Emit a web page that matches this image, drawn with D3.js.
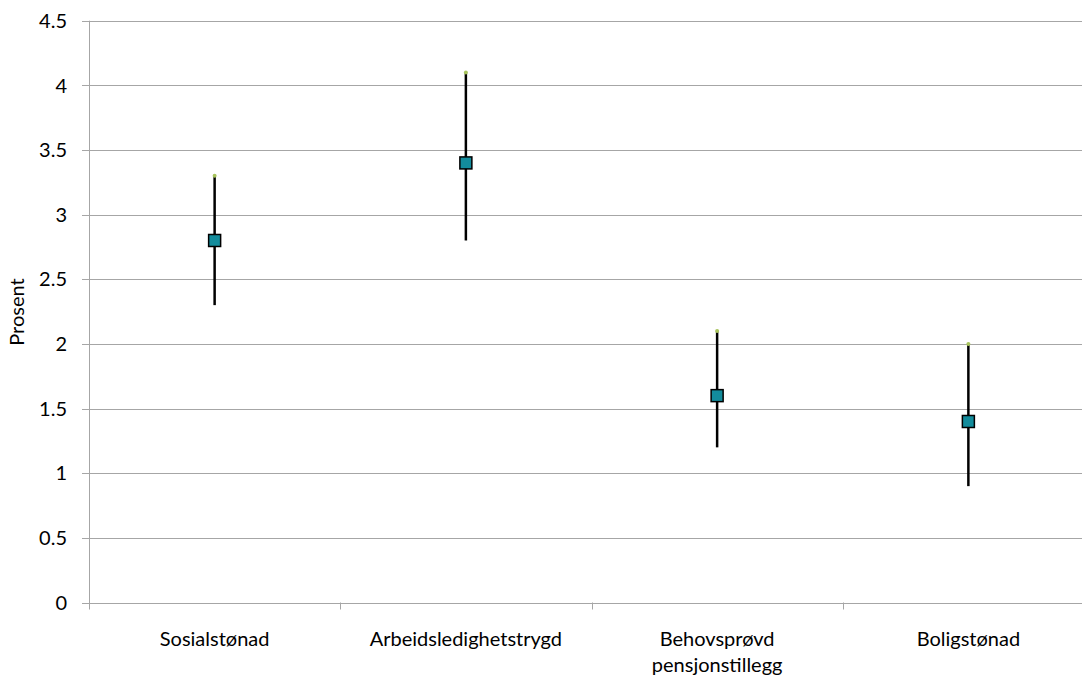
<!DOCTYPE html>
<html><head><meta charset="utf-8">
<script src="https://cdn.jsdelivr.net/npm/d3@7"></script>
<style>body{margin:0;background:#fff}svg text{font-family:Lato,"Open Sans",sans-serif;font-size:20px;fill:#000}</style>
</head><body><svg id="c" width="1082" height="675"></svg>
<script>
const categories = ["Sosialstønad","Arbeidsledighetstrygd","Behovsprøvd\npensjonstillegg","Boligstønad"];
const lowValues = [2.3, 2.8, 1.2, 0.9];
const highValues = [3.3, 4.1, 2.1, 2.0];
const midValues = [2.8, 3.4, 1.6, 1.4];
const yTicks = [0,0.5,1,1.5,2,2.5,3,3.5,4,4.5];

const svg = d3.select("#c");
const x0 = 89, x1 = 1094, yTop = 20.7, yBot = 602.5;
const x = d3.scaleBand().domain(categories).range([x0,x1]);
const y = d3.scaleLinear().domain([0,4.5]).range([yBot,yTop]);
const grid = "#a6a6a6";

svg.append("g").selectAll("line").data(yTicks.filter(d=>d>0)).join("line")
  .attr("x1",x0).attr("x2",x1).attr("y1",d=>Math.round(y(d))+0.5).attr("y2",d=>Math.round(y(d))+0.5)
  .attr("stroke",grid).attr("stroke-width",1);

// y axis
svg.append("line").attr("x1",x0+0.5).attr("x2",x0+0.5).attr("y1",yTop).attr("y2",yBot+1).attr("stroke",grid);
svg.append("g").selectAll("line").data(yTicks).join("line")
  .attr("x1",x0-7).attr("x2",x0).attr("y1",d=>Math.round(y(d))+0.5).attr("y2",d=>Math.round(y(d))+0.5).attr("stroke",grid);
svg.append("g").selectAll("text").data(yTicks).join("text")
  .attr("x",67).attr("y",d=>y(d)).attr("dy","0.36em").attr("text-anchor","end").text(d=>d);

// x axis
svg.append("line").attr("x1",x0).attr("x2",x1).attr("y1",Math.round(yBot)+0.5).attr("y2",Math.round(yBot)+0.5).attr("stroke",grid);
const bounds = categories.map(c=>x(c)).concat([x1]);
svg.append("g").selectAll("line").data(bounds).join("line")
  .attr("x1",d=>Math.round(d)+0.5).attr("x2",d=>Math.round(d)+0.5).attr("y1",yBot).attr("y2",yBot+7).attr("stroke",grid);
categories.forEach(c=>{
  const t = svg.append("text").attr("x",x(c)+x.bandwidth()/2).attr("y",646).attr("text-anchor","middle");
  c.split("\n").forEach((l,i)=>t.append("tspan").attr("x",x(c)+x.bandwidth()/2).attr("dy",i?26:0).text(l));
});

svg.append("text").attr("transform","translate(24,312) rotate(-90)").attr("text-anchor","middle").text("Prosent");

// error lines
const cx = c=>x(c)+x.bandwidth()/2;
svg.append("g").selectAll("line").data(categories).join("line")
  .attr("x1",cx).attr("x2",cx).attr("y1",(c,i)=>y(lowValues[i])).attr("y2",(c,i)=>y(highValues[i]))
  .attr("stroke","#000").attr("stroke-width",2.5);
svg.append("g").selectAll("circle").data(categories).join("circle")
  .attr("cx",cx).attr("cy",(c,i)=>y(highValues[i])).attr("r",2).attr("fill","#a8c45c");
const s = 12;
svg.append("g").selectAll("rect").data(categories).join("rect")
  .attr("x",c=>cx(c)-s/2).attr("y",(c,i)=>y(midValues[i])-s/2).attr("width",s).attr("height",s)
  .attr("fill","#138c9c").attr("stroke","#000").attr("stroke-width",1.5);
</script></body></html>
